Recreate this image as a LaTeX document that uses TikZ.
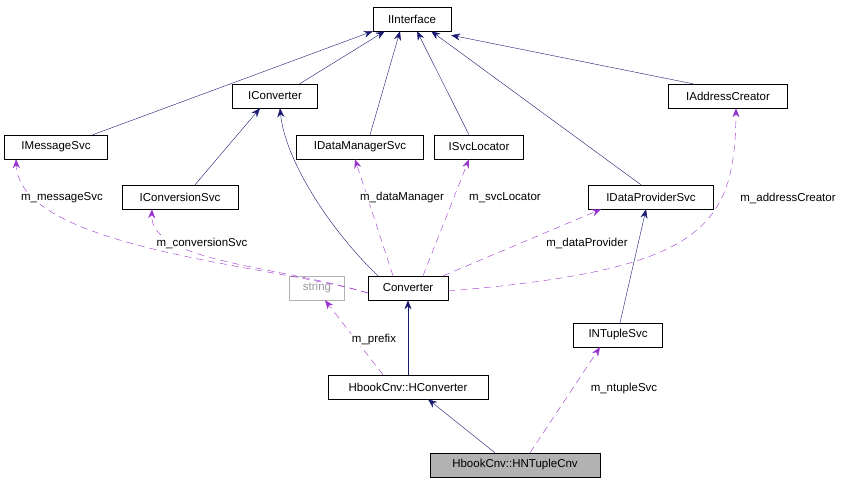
\documentclass[tikz,border=0pt]{standalone}
\usepackage{fontspec}
\setmainfont{Liberation Sans}
\usetikzlibrary{arrows.meta}
\begin{document}
\begin{tikzpicture}[x=1pt,y=-1pt,
  cls/.style={draw=black,fill=white,minimum height=24pt,inner sep=2pt,font=\fontsize{11.5}{13}\selectfont},
  inh/.style={draw={rgb,255:red,25;green,25;blue,112},-{Stealth[length=9pt,width=7pt]}},
  use/.style={draw={rgb,255:red,153;green,50;blue,204},dash pattern=on 7pt off 5pt,-{Stealth[length=9pt,width=7pt]}},
  lbl/.style={font=\fontsize{11.5}{13}\selectfont,fill=white,inner sep=1pt}]
\useasboundingbox (0,0) rectangle (850,485);
\node[cls,minimum width=78pt] (ii) at (412,19) {IInterface};
\node[cls,minimum width=85pt] (ic) at (275,96) {IConverter};
\node[cls,minimum width=119pt] (ia) at (728,96) {IAddressCreator};
\node[cls,minimum width=103pt] (im) at (56,147) {IMessageSvc};
\node[cls,minimum width=127pt] (idm) at (360,147) {IDataManagerSvc};
\node[cls,minimum width=89pt] (isl) at (479,147) {ISvcLocator};
\node[cls,minimum width=116pt] (ics) at (180,197) {IConversionSvc};
\node[cls,minimum width=125pt] (idp) at (651,197) {IDataProviderSvc};
\node[cls,draw=gray!60,minimum width=55pt,text=gray!80] (str) at (317,288) {string};
\node[cls,minimum width=80pt] (cv) at (408,288) {Converter};
\node[cls,minimum width=89pt] (nt) at (618,335) {INTupleSvc};
\node[cls,minimum width=160pt] (hc) at (408,387) {HbookCnv::HConverter};
\node[cls,fill=gray!60,minimum width=170pt] (hn) at (515,465) {HbookCnv::HNTupleCnv};

\draw[inh] (im.north east) ++(-15,0) -- (ii.south west);
\draw[inh] (ic.north east) ++(-18,0) -- ([xshift=12pt]ii.south west);
\draw[inh] ([xshift=10pt]idm.north) -- ([xshift=-12pt]ii.south);
\draw[inh] ([xshift=-10pt]isl.north) -- ([xshift=5pt]ii.south);
\draw[inh] ([xshift=-10pt]idp.north) -- ([xshift=-20pt]ii.south east);
\draw[inh] ([xshift=-35pt]ia.north) -- ([yshift=-4pt]ii.south east);
\draw[inh] ([xshift=15pt]ics.north) -- ([xshift=-15pt]ic.south);
\draw[inh] ([xshift=-30pt]cv.north) .. controls (330,230) and (285,160) .. ([xshift=5pt]ic.south);
\draw[inh] (hc.north) -- (cv.south);
\draw[inh] ([xshift=-20pt]hn.north) -- ([xshift=20pt]hc.south);
\draw[inh] ([xshift=2pt]nt.north) -- ([xshift=-5pt]idp.south);

\draw[use] ([yshift=-5pt]cv.west) .. controls (280,266) and (20,250) .. ([xshift=-40pt]im.south);
\draw[use] ([yshift=-5pt]cv.west) .. controls (280,266) and (150,262) .. ([xshift=-28pt]ics.south);
\draw[use] ([xshift=-15pt]cv.north) -- ([xshift=-5pt]idm.south);
\draw[use] ([xshift=15pt]cv.north) -- ([xshift=-10pt]isl.south);
\draw[use] ([xshift=-5pt]cv.north east) -- ([xshift=-50pt]idp.south);
\draw[use] ([yshift=-3pt]cv.east) .. controls (700,270) and (735,230) .. ([xshift=8pt]ia.south);
\draw[use] ([xshift=-25pt]hc.north) -- ([xshift=8pt]str.south);
\draw[use] ([xshift=15pt]hn.north) -- ([xshift=-18pt]nt.south);

\node[lbl] (l1) at (62,198) {m\_messageSvc};
\node[lbl] (l2) at (202,243) {m\_conversionSvc};
\node[lbl] (l3) at (402,198) {m\_dataManager};
\node[lbl] (l4) at (505,198) {m\_svcLocator};
\node[lbl] (l5) at (587,243) {m\_dataProvider};
\node[lbl] (l6) at (788,198) {m\_addressCreator};
\node[lbl] (l7) at (374,340) {m\_prefix};
\node[lbl] (l8) at (624,389) {m\_ntupleSvc};
\end{tikzpicture}
\end{document}
